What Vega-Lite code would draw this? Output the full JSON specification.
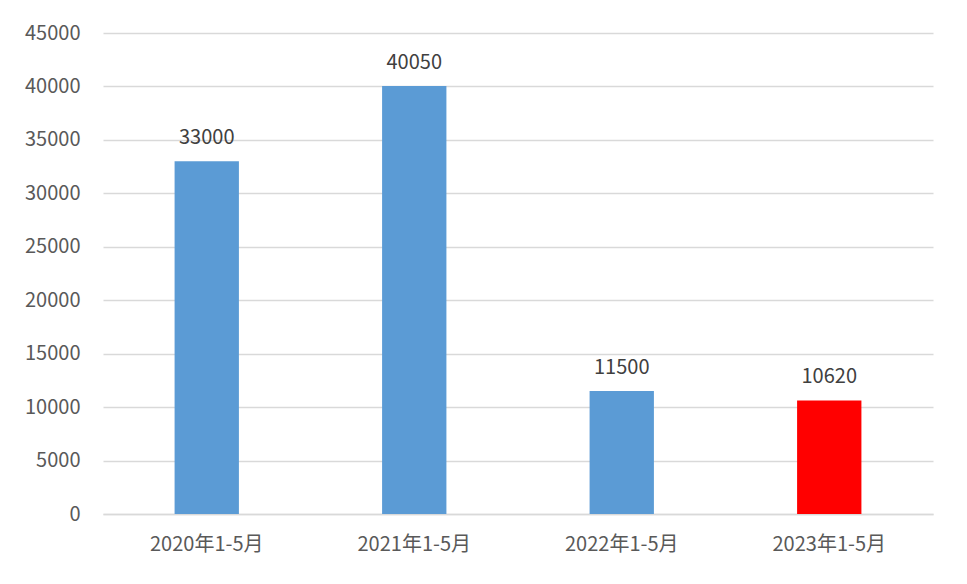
{
  "$schema": "https://vega.github.io/schema/vega-lite/v6.json",
  "autosize": "none",
  "width": 830,
  "height": 481,
  "padding": {"left": 103, "top": 33, "right": 34, "bottom": 70},
  "background": "white",
  "config": {
    "view": {"stroke": null},
    "font": "Noto Sans CJK SC",
    "axis": {"labelFont": "Noto Sans CJK SC", "labelColor": "#595959", "labelFontSize": 20}
  },
  "data": {
    "values": [
      {"period": "2020年1-5月", "value": 33000},
      {"period": "2021年1-5月", "value": 40050},
      {"period": "2022年1-5月", "value": 11500},
      {"period": "2023年1-5月", "value": 10620}
    ]
  },
  "encoding": {
    "x": {
      "field": "period",
      "type": "nominal",
      "sort": null,
      "scale": {"paddingInner": 0.69, "paddingOuter": 0.345},
      "axis": {"title": null, "labelAngle": 0, "ticks": false, "labelPadding": 20, "domainColor": "#d9d9d9", "domainWidth": 1.5, "grid": false}
    },
    "y": {
      "field": "value",
      "type": "quantitative",
      "scale": {"domain": [0, 45000], "nice": false},
      "axis": {"title": null, "format": "d", "labelOverlap": false, "values": [0,5000,10000,15000,20000,25000,30000,35000,40000,45000], "ticks": false, "domain": false, "labelPadding": 23, "gridColor": "#d9d9d9", "gridWidth": 1.5}
    }
  },
  "layer": [
    {
      "mark": {"type": "bar"},
      "encoding": {
        "color": {
          "field": "period",
          "type": "nominal",
          "scale": {"domain": ["2020年1-5月", "2021年1-5月", "2022年1-5月", "2023年1-5月"], "range": ["#5B9BD5", "#5B9BD5", "#5B9BD5", "#FF0000"]},
          "legend": null
        }
      }
    },
    {
      "mark": {"type": "text", "dy": -13, "fontSize": 20, "color": "#404040", "baseline": "bottom"},
      "encoding": {"text": {"field": "value", "type": "quantitative", "format": "d"}}
    }
  ]
}
